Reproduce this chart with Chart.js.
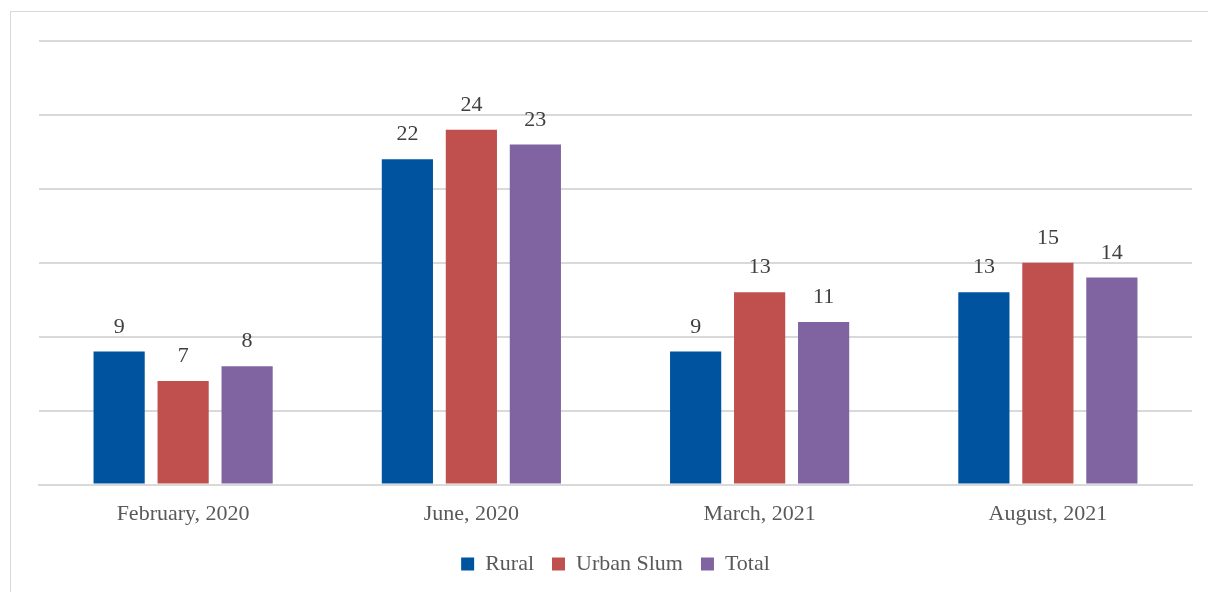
<!DOCTYPE html>
<html><head><meta charset="utf-8">
<script src="https://cdn.jsdelivr.net/npm/chart.js@4/dist/chart.umd.min.js"></script>
<style>
html,body{margin:0;padding:0;background:#fff;overflow:hidden;}
#frame{position:absolute;left:10px;top:11px;width:1300px;height:700px;border:1px solid #d9d9d9;box-sizing:border-box;}
#wrap{position:absolute;left:0;top:0;width:1208px;height:592px;}
</style></head>
<body>
<div id="frame"></div>
<div id="wrap"><canvas id="c" width="1208" height="592"></canvas></div>
<script>
const categories = ["February, 2020", "June, 2020", "March, 2021", "August, 2021"];
const rural = [9, 22, 9, 13];
const urbanSlum = [7, 24, 13, 15];
const total = [8, 23, 11, 14];
const seriesNames = ["Rural", "Urban Slum", "Total"];
const seriesColors = ["#00549F", "#C0504D", "#8064A2"];

const FONT = "'Liberation Serif', 'DejaVu Serif', serif";

const labelPlugin = {
  id: 'barLabels',
  afterDatasetsDraw(chart) {
    const ctx = chart.ctx;
    ctx.save();
    ctx.font = "22px " + FONT;
    ctx.fillStyle = "#404040";
    ctx.textAlign = "center";
    ctx.textBaseline = "alphabetic";
    chart.data.datasets.forEach((ds, i) => {
      const meta = chart.getDatasetMeta(i);
      meta.data.forEach((bar, j) => {
        ctx.fillText(String(ds.data[j]), bar.x, bar.y - 19);
      });
    });
    ctx.restore();
  }
};

new Chart(document.getElementById('c'), {
  type: 'bar',
  data: {
    labels: categories,
    datasets: [
      {label: seriesNames[0], data: rural, backgroundColor: seriesColors[0]},
      {label: seriesNames[1], data: urbanSlum, backgroundColor: seriesColors[1]},
      {label: seriesNames[2], data: total, backgroundColor: seriesColors[2]}
    ]
  },
  options: {
    responsive: false,
    animation: false,
    devicePixelRatio: 1,
    categoryPercentage: 0.666,
    barPercentage: 0.8,
    layout: {padding: {left: 39, right: 16, top: 41, bottom: 7}},
    plugins: {
      legend: {
        position: 'bottom',
        labels: {
          font: {family: FONT, size: 22},
          color: '#595959',
          boxWidth: 13,
          boxHeight: 13,
          padding: 18
        }
      },
      tooltip: {enabled: false}
    },
    scales: {
      x: {
        grid: {display: false},
        border: {color: '#d9d9d9', width: 2},
        ticks: {font: {family: FONT, size: 22}, color: '#595959', padding: 8}
      },
      y: {
        min: 0, max: 30,
        ticks: {display: false, stepSize: 5},
        grid: {color: '#d9d9d9', lineWidth: 2, drawTicks: false},
        border: {display: false}
      }
    }
  },
  plugins: [labelPlugin]
});
</script>
</body></html>
